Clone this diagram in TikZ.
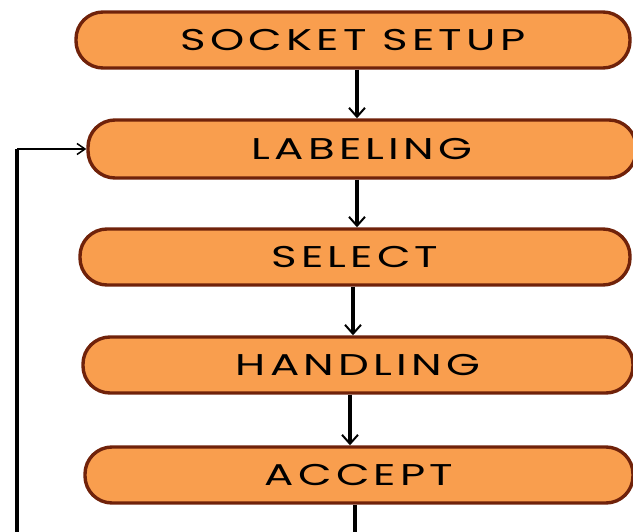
\documentclass[tikz,border=0pt]{standalone}
\usepackage{fontspec}
\setmainfont[LetterSpace=14,FakeStretch=1.45]{Poppins}
\usetikzlibrary{arrows.meta,positioning,calc}
\definecolor{boxfill}{RGB}{249,158,78}
\definecolor{boxedge}{RGB}{112,34,10}

\begin{document}
\begin{tikzpicture}[
  x=1pt,y=-1pt,
  font=\fontsize{30}{34}\selectfont,
  stage/.style={draw=boxedge,fill=boxfill,line width=3.4pt,rounded corners=27pt,minimum height=56pt,inner sep=0pt},
  a/.style={line width=3.4pt,-{Straight Barb[length=9pt,width=16pt,line width=2pt]}},
  thin/.style={line width=1.8pt,-{Straight Barb[length=8pt,width=11pt,line width=1.5pt]}}
]
\clip (0,0) rectangle (633,532);

% stages
\node[stage,minimum width=554pt] (sock) at (353,40)  {SOCKET SETUP};
\node[stage,minimum width=548pt,minimum height=58pt] (lab) at (362,149) {LABELING};
\node[stage,minimum width=550pt] (sel)  at (355,257) {SELECT};
\node[stage,minimum width=550pt] (hand) at (358,365) {HANDLING};
\node[stage,minimum width=548pt] (acc)  at (359,475) {ACCEPT};

\draw[a] (sock.south -| 357,0) -- (357,0 |- lab.north);
\draw[a] (lab.south -| 357,0) -- (357,0 |- sel.north);
\draw[a] (sel.south -| 353,0) -- (353,0 |- hand.north);
\draw[a] (hand.south -| 350,0) -- (350,0 |- acc.north);

% loop back
\coordinate (lp) at (17,560);
\draw[line width=3.4pt] (acc.south -| 355,0) |- (lp) -- (lp |- lab.west);
\draw[thin] (lp |- lab.west) -- (lab.west);
\end{tikzpicture}
\end{document}
